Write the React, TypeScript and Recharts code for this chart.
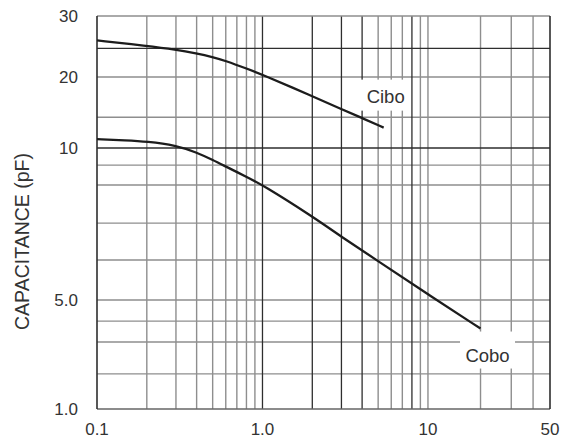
import { LineChart, Line, XAxis, YAxis, ReferenceLine, LabelList } from "recharts";

// reverse voltage (V) vs capacitance (pF)
const ciboVolts = [0.1, 0.2, 0.3, 0.4, 0.5, 0.6, 0.8, 1, 2, 3, 4, 5.4];
const ciboPf = [25.5, 24.6, 24.0, 23.4, 22.84, 22.27, 21.16, 20.3, 16.6, 14.6, 13.4, 12.2];
const coboVolts = [0.1, 0.15, 0.2, 0.3, 0.4, 0.5, 0.6, 0.8, 1, 2, 3, 5, 10, 20];
const coboPf = [10.9, 10.78, 10.66, 10.27, 9.8, 9.47, 9.19, 8.77, 8.45, 7.32, 6.67, 5.97, 5.13, 3.28];

const xTicks = [0.1, 1, 10, 50];
const xTickLabels = ["0.1", "1.0", "10", "50"];
const yTicks = [1, 5, 10, 20, 30];
const yTickLabels = ["1.0", "5.0", "10", "20", "30"];

const xGridDark = [1, 2, 3, 4, 8];
const xGridLight = [0.2, 0.3, 0.4, 0.5, 0.6, 0.7, 0.8, 0.9, 5, 6, 7, 9, 10, 20, 30, 40];
const yGridDark = [24.2, 10];
const yGridLight = [20, 13.5, 9.25, 8.45, 7.1, 6.0, 5, 3.66, 2.69, 1.68];

// the printed axes are not evenly spaced decades: fraction of the axis at each labelled tick
const xCal = [0, 0.3653, 0.7306, 1];
const yCal = [0, 0.2774, 0.6641, 0.8448, 1];

function warp(v: number, ticks: number[], cal: number[]) {
  const lv = Math.log10(v);
  for (let i = 0; i < ticks.length - 1; i++) {
    const a = Math.log10(ticks[i]);
    const b = Math.log10(ticks[i + 1]);
    if (lv <= b || i === ticks.length - 2) {
      return cal[i] + ((lv - a) / (b - a)) * (cal[i + 1] - cal[i]);
    }
  }
  return 0;
}
const wx = (v: number) => warp(v, xTicks, xCal);
const wy = (v: number) => warp(v, yTicks, yCal);

const ciboData = ciboVolts.map((v, i) => ({ x: wx(v), y: wy(ciboPf[i]) }));
const coboData = coboVolts.map((v, i) => ({ x: wx(v), y: wy(coboPf[i]) }));

const nearest = (arr: number[], t: number) => {
  let best = 0;
  arr.forEach((a, i) => {
    if (Math.abs(a - t) < Math.abs(arr[best] - t)) best = i;
  });
  return best;
};

const FONT = "'Liberation Sans', Arial, sans-serif";
const DARK = "#2e2e2e";
const LIGHT = "#8e8e8e";

const endLabel =
  (text: string, dx: number, dy: number, last: number, box: { w: number; top: number; bottom: number }) =>
  (p: any) => {
    if (p.index !== last) return null;
    const cx = Number(p.x) + dx;
    const cy = Number(p.y) + dy;
    return (
      <g>
        <rect x={cx - box.w / 2} y={cy - box.top} width={box.w} height={box.top + box.bottom} fill="#fff" />
        <text
          x={cx}
          y={cy}
          textAnchor="middle"
          dominantBaseline="central"
          fontFamily={FONT}
          fontSize={18.5}
          fill="#333"
        >
          {text}
        </text>
      </g>
    );
  };

export default function App() {
  return (
    <div style={{ position: "absolute", left: 0, top: 0, background: "#fff" }}>
      <LineChart
        width={563}
        height={439}
        margin={{ top: 16, right: 13, bottom: 0, left: 0 }}
      >
        <XAxis
          type="number"
          dataKey="x"
          domain={[0, 1]}
          ticks={xTicks.map(wx)}
          interval={0}
          allowDataOverflow
          height={30}
          axisLine={false}
          tickLine={false}
          tickSize={0}
          tickMargin={14}
          tick={{ fontSize: 17, fill: "#333", fontFamily: FONT }}
          tickFormatter={(t: number) => xTickLabels[nearest(xTicks.map(wx), t)]}
        />
        <YAxis
          type="number"
          dataKey="y"
          domain={[0, 1]}
          ticks={yTicks.map(wy)}
          interval={0}
          allowDataOverflow
          width={97}
          axisLine={false}
          tickLine={false}
          tickSize={0}
          tickMargin={19}
          tick={{ fontSize: 17, fill: "#333", fontFamily: FONT }}
          tickFormatter={(t: number) => yTickLabels[nearest(yTicks.map(wy), t)]}
          label={{
            content: (p: any) => {
              const vb = p.viewBox || { x: 0, y: 16, width: 97, height: 393 };
              const cx = vb.x + 22;
              const cy = vb.y + vb.height / 2 + 29;
              return (
                <text
                  x={cx}
                  y={cy}
                  transform={`rotate(-90 ${cx} ${cy})`}
                  textAnchor="middle"
                  dominantBaseline="central"
                  fontFamily={FONT}
                  fontSize={19.5}
                  fill="#333"
                >
                  CAPACITANCE (pF)
                </text>
              );
            },
          }}
        />

        {xGridLight.map((v) => (
          <ReferenceLine key={`xl${v}`} x={wx(v)} stroke={LIGHT} strokeWidth={1.4} />
        ))}
        {yGridLight.map((v) => (
          <ReferenceLine key={`yl${v}`} y={wy(v)} stroke={LIGHT} strokeWidth={1.4} />
        ))}
        {xGridDark.map((v) => (
          <ReferenceLine key={`xd${v}`} x={wx(v)} stroke={DARK} strokeWidth={1.3} />
        ))}
        {yGridDark.map((v) => (
          <ReferenceLine key={`yd${v}`} y={wy(v)} stroke={DARK} strokeWidth={1.3} />
        ))}

        {/* frame */}
        <ReferenceLine y={wy(30)} stroke={LIGHT} strokeWidth={1.5} />
        <ReferenceLine y={wy(1)} stroke="#666" strokeWidth={1.6} />
        <ReferenceLine x={wx(0.1)} stroke={DARK} strokeWidth={1.6} />
        <ReferenceLine x={wx(50)} stroke={DARK} strokeWidth={1.6} />

        <Line
          data={ciboData}
          dataKey="y"
          type="basis"
          stroke="#1c1c1c"
          strokeWidth={2.3}
          dot={false}
          isAnimationActive={false}
        >
          <LabelList
            dataKey="y"
            content={endLabel("Cibo", 2, -31, ciboData.length - 1, { w: 50, top: 17, bottom: 14 })}
          />
        </Line>
        <Line
          data={coboData}
          dataKey="y"
          type="basis"
          stroke="#1c1c1c"
          strokeWidth={2.3}
          dot={false}
          isAnimationActive={false}
        >
          <LabelList
            dataKey="y"
            content={endLabel("Cobo", 7, 27, coboData.length - 1, { w: 55, top: 24, bottom: 13 })}
          />
        </Line>
      </LineChart>
    </div>
  );
}
